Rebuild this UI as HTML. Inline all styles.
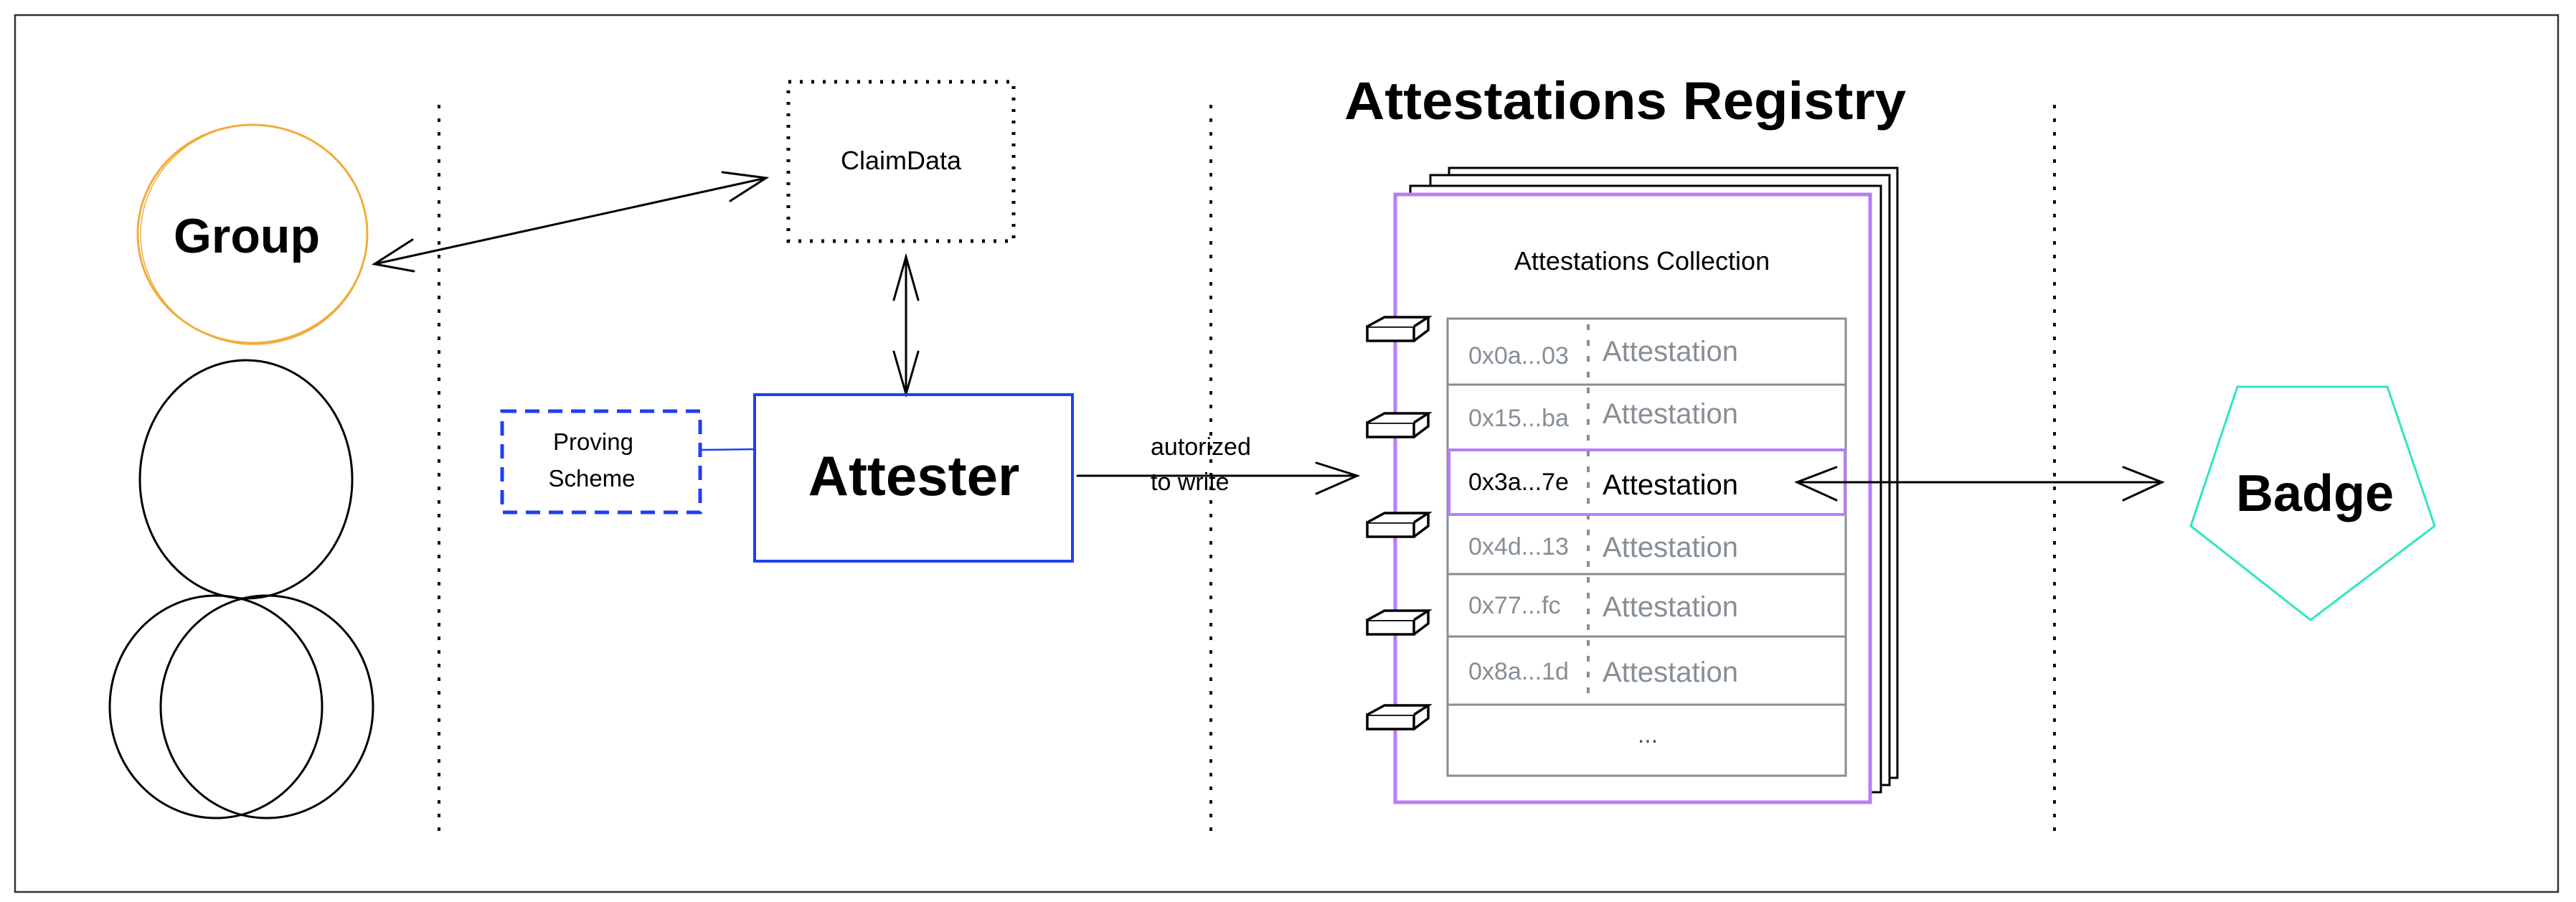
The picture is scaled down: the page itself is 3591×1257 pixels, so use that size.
<!DOCTYPE html>
<html><head><meta charset="utf-8"><style>
html,body{margin:0;padding:0;background:#fff;}
svg{display:block;}
text{font-family:"Liberation Sans",sans-serif;}
</style></head><body>
<svg width="3591" height="1257" viewBox="0 0 3591 1257" xmlns="http://www.w3.org/2000/svg">
<rect x="0" y="0" width="3591" height="1257" fill="#fff"/>
<rect x="21" y="21" width="3545" height="1222" fill="none" stroke="#333" stroke-width="2.5"/>

<g stroke="#111" stroke-width="4" stroke-dasharray="5 14">
<line x1="612" y1="146" x2="612" y2="1172"/>
<line x1="1688" y1="146" x2="1688" y2="1172"/>
<line x1="2864" y1="146" x2="2864" y2="1172"/>
</g>

<ellipse cx="352" cy="326" rx="160" ry="152" fill="none" stroke="#f1ac3c" stroke-width="3"/>
<ellipse cx="354" cy="327" rx="158" ry="153" fill="none" stroke="#f1ac3c" stroke-width="1.5"/>
<text x="344" y="352" font-size="68" font-weight="bold" text-anchor="middle" fill="#000">Group</text>
<ellipse cx="343" cy="668" rx="148" ry="166" fill="none" stroke="#000" stroke-width="3"/>
<ellipse cx="301" cy="985" rx="148" ry="155" fill="none" stroke="#000" stroke-width="3"/>
<ellipse cx="372" cy="985" rx="148" ry="155" fill="none" stroke="#000" stroke-width="3"/>

<rect x="1099" y="114" width="314" height="222" fill="none" stroke="#000" stroke-width="5" stroke-dasharray="4 12"/>
<text x="1256" y="236" font-size="36" text-anchor="middle">ClaimData</text>

<g stroke="#000" stroke-width="3" fill="none" stroke-linecap="round">
<line x1="522" y1="368" x2="1068" y2="248"/>
<polyline points="575,334 522,368 577,378"/>
<polyline points="1007,240 1068,248 1018,280"/>
<line x1="1263" y1="358" x2="1263" y2="549"/>
<polyline points="1246,418 1263,358 1280,418"/>
<polyline points="1246,490 1263,549 1280,490"/>
</g>

<rect x="700" y="573" width="276" height="141" fill="none" stroke="#1e3ff2" stroke-width="5" stroke-dasharray="20 12"/>
<text x="827" y="627" font-size="33" text-anchor="middle">Proving</text>
<text x="825" y="678" font-size="33" text-anchor="middle">Scheme</text>
<line x1="976" y1="627" x2="1052" y2="626" stroke="#1e3ff2" stroke-width="2.5"/>

<rect x="1052" y="550" width="443" height="232" fill="none" stroke="#1e3ff2" stroke-width="4"/>
<text x="1274" y="690" font-size="78" font-weight="bold" text-anchor="middle">Attester</text>

<g stroke="#000" stroke-width="3" fill="none" stroke-linecap="round">
<line x1="1502" y1="663" x2="1892" y2="663"/>
<polyline points="1835,645 1892,663 1835,688"/>
</g>
<text x="1604" y="634" font-size="34">autorized</text>
<text x="1604" y="683" font-size="34">to write</text>

<text x="1874" y="166" font-size="74" font-weight="bold" textLength="783" lengthAdjust="spacingAndGlyphs">Attestations Registry</text>

<g fill="#fff" stroke="#000" stroke-width="3">
<rect x="2020" y="234" width="625" height="850"/>
<rect x="1994" y="244" width="640" height="850"/>
<rect x="1966" y="259" width="656" height="845"/>
</g>
<rect x="1945" y="271" width="662" height="847" fill="#fff" stroke="#b57ef5" stroke-width="5"/>
<text x="2289" y="376" font-size="36" text-anchor="middle">Attestations Collection</text>

<g stroke="#868e96" stroke-width="3" fill="none">
<rect x="2018" y="444" width="555" height="637"/>
<line x1="2018" y1="536" x2="2573" y2="536"/>
<line x1="2018" y1="800" x2="2573" y2="800"/>
<line x1="2018" y1="887" x2="2573" y2="887"/>
<line x1="2018" y1="982" x2="2573" y2="982"/>
<line x1="2214" y1="452" x2="2214" y2="980" stroke-width="4" stroke-dasharray="8 14"/>
</g>
<rect x="2020" y="627" width="552" height="90" fill="none" stroke="#b57ef5" stroke-width="4"/>

<g font-size="34" fill="#868e96">
<text x="2047" y="507">0x0a...03</text>
<text x="2047" y="594">0x15...ba</text>
<text x="2047" y="773">0x4d...13</text>
<text x="2047" y="855">0x77...fc</text>
<text x="2047" y="947">0x8a...1d</text>
<text x="2047" y="683" fill="#000">0x3a...7e</text>
</g>
<g font-size="40" fill="#868e96">
<text x="2234" y="503">Attestation</text>
<text x="2234" y="590">Attestation</text>
<text x="2234" y="776">Attestation</text>
<text x="2234" y="859">Attestation</text>
<text x="2234" y="950">Attestation</text>
<text x="2234" y="689" fill="#000">Attestation</text>
</g>
<text x="2297" y="1035" font-size="34" text-anchor="middle" fill="#555">...</text>

<g fill="#fff" stroke="#000" stroke-width="3.5">
<g transform="translate(0,460)"><rect x="1906" y="-5" width="65" height="20"/><polyline points="1906,-5 1930,-18 1991,-18 1971,-5"/><polyline points="1971,15 1991,0 1991,-18"/></g>
<g transform="translate(0,594)"><rect x="1906" y="-5" width="65" height="20"/><polyline points="1906,-5 1930,-18 1991,-18 1971,-5"/><polyline points="1971,15 1991,0 1991,-18"/></g>
<g transform="translate(0,733)"><rect x="1906" y="-5" width="65" height="20"/><polyline points="1906,-5 1930,-18 1991,-18 1971,-5"/><polyline points="1971,15 1991,0 1991,-18"/></g>
<g transform="translate(0,869)"><rect x="1906" y="-5" width="65" height="20"/><polyline points="1906,-5 1930,-18 1991,-18 1971,-5"/><polyline points="1971,15 1991,0 1991,-18"/></g>
<g transform="translate(0,1001)"><rect x="1906" y="-5" width="65" height="20"/><polyline points="1906,-5 1930,-18 1991,-18 1971,-5"/><polyline points="1971,15 1991,0 1991,-18"/></g>
</g>

<g stroke="#000" stroke-width="3" fill="none" stroke-linecap="round">
<line x1="2505" y1="672" x2="3014" y2="672"/>
<polyline points="2560,651 2505,672 2560,697"/>
<polyline points="2960,651 3014,672 2960,697"/>
</g>

<polygon points="3119,539 3328,539 3394,733 3221,864 3054,733" fill="none" stroke="#2ee6c0" stroke-width="3"/>
<text x="3227" y="712" font-size="72" font-weight="bold" text-anchor="middle">Badge</text>
</svg>
</body></html>
